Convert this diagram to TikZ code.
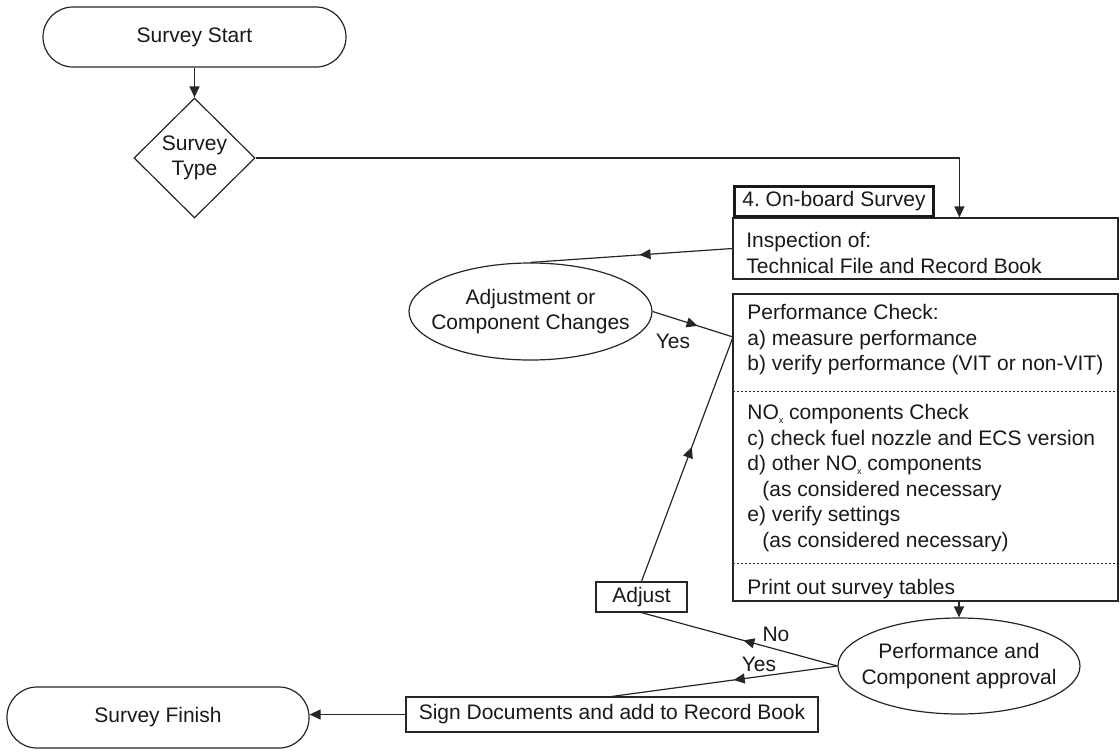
\documentclass[tikz,border=0pt]{standalone}
\usepackage{fontspec}
\setmainfont{Liberation Sans}
\usetikzlibrary{shapes.geometric,arrows.meta,decorations.markings}
\newcommand{\subx}{\raisebox{-0.3ex}{\fontsize{4.5}{4.5}\selectfont x}}
\frenchspacing
\begin{document}
\begin{tikzpicture}[x=0.5pt,y=-0.5pt,
  every node/.style={font=\fontsize{10.5}{12.75}\selectfont, text=black!90},
  ln/.style={draw=black!85, line width=0.6pt},
  arr/.style={ln, -{Triangle[length=5.5pt,width=5pt]}},
  midarr/.style={ln, postaction={decorate},
    decoration={markings, mark=at position #1 with {\arrow{Triangle[length=5.5pt,width=5pt]}}}},
  box/.style={draw=black!85, line width=0.6pt, rectangle, inner sep=0pt},
  term/.style={box, rounded corners=15pt},
  txt/.style={anchor=west, inner sep=0pt, align=left},
  sep/.style={draw=black!85, line width=0.5pt, dash pattern=on 1pt off 1pt},
]
\useasboundingbox (0,0) rectangle (1120,751);

% terminals and decision
\node[term, minimum width=151.5pt, minimum height=30pt] (start) at (194.5,37) {Survey Start};
\node[box, diamond, minimum width=60.5pt, minimum height=60pt, align=center] (type) at (194.5,158) {Survey\\Type};

% on-board survey
\node[box, minimum width=192.5pt, minimum height=30.5pt] (insp) at (925.5,248.5) {};
\node[txt] (insptxt) at (746,253) {Inspection of:\\Technical File and Record Book};
\node[draw=black!90, line width=1.5pt, rectangle, inner sep=0pt, minimum width=99.5pt, minimum height=15pt] (onboard) at (834,201.5) {4. On-board Survey};

% performance box
\node[box, minimum width=192.5pt, minimum height=153.5pt] (perf) at (925.5,447.5) {};
\draw[sep] (733,391) -- (1118,391);
\draw[sep] (733,563) -- (1118,563);
\node[txt] (p1) at (747,340) {Performance Check:\\a) measure performance\\b) verify performance (VIT or non-VIT)};
\node[txt] (p2) at (747,478) {NO\subx{} components Check\\c) check fuel nozzle and ECS version\\d) other NO\subx{} components\\\hspace*{7.5pt}(as considered necessary\\e) verify settings\\\hspace*{7.5pt}(as considered necessary)};
\node[txt] (p3) at (747,589) {Print out survey tables};

% adjustment ellipse
\node[box, ellipse, minimum width=121.5pt, minimum height=48.5pt] (adj) at (530.5,311.5) {};
\node[align=center, inner sep=0pt] (adjtxt) at (adj.center) {Adjustment or\\Component Changes};
\node (yes1) at (673,341) {Yes};
\coordinate (pj) at (733,337);

% adjust box
\node[box, minimum width=45.5pt, minimum height=15pt] (adjust) at (641.5,597) {Adjust};

% approval ellipse
\node[box, ellipse, minimum width=121pt, minimum height=48pt] (appr) at (959,666) {};
\node[align=center, inner sep=0pt] (apprtxt) at (appr.center) {Performance and\\Component approval};
\node (no) at (776,634) {No};
\node (yes2) at (759,664) {Yes};

% sign and finish
\node[box, minimum width=206pt, minimum height=17.5pt] (sign) at (612,714.5) {Sign Documents and add to Record Book};
\node[term, minimum width=151pt, minimum height=30.5pt] (finish) at (158,717.5) {Survey Finish};

% connectors
\draw[arr] (start.south) -- (type.north);
\draw[arr] (type.east) -| ([xshift=113.5pt]insp.north west);
\draw[midarr=0.46] (insp.west) -- (adj.north);
\draw[midarr=0.56] (adj.east) -- (pj);
\draw[midarr=0.55] (adjust.north) -- (pj);
\draw[arr] (appr.north |- perf.south) -- (appr.north);
\draw[midarr=0.48] (appr.west) -- (adjust.south);
\draw[midarr=0.46] (appr.west) -- (sign.north);
\draw[arr] (sign.west) -- (sign.west -| finish.east);
\end{tikzpicture}
\end{document}
